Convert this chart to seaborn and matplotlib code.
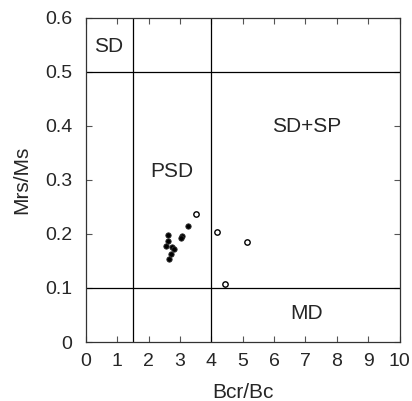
import matplotlib
matplotlib.use("Agg")
import matplotlib.pyplot as plt
import seaborn as sns
import pandas as pd

# Day plot data (Bcr/Bc vs Mrs/Ms)
filled_bcr = [3.24, 3.06, 3.03, 2.63, 2.62, 2.56, 2.73, 2.81, 2.72, 2.66]
filled_mrs = [0.215, 0.196, 0.192, 0.198, 0.187, 0.177, 0.175, 0.173, 0.163, 0.153]
open_bcr = [3.51, 4.19, 5.14, 4.43]
open_mrs = [0.236, 0.203, 0.185, 0.107]

# Domain boundaries and labels
vlines = [1.5, 4.0]
hlines = [0.1, 0.5]
region_names = ["SD", "PSD", "SD+SP", "MD"]
region_x = [0.73, 2.74, 7.03, 7.04]
region_y = [0.55, 0.32, 0.402, 0.056]

sns.set_style("ticks")
plt.rcParams['font.family'] = ['Liberation Sans', 'DejaVu Sans']

filled_df = pd.DataFrame({"Bcr/Bc": filled_bcr, "Mrs/Ms": filled_mrs})
open_df = pd.DataFrame({"Bcr/Bc": open_bcr, "Mrs/Ms": open_mrs})

fig = plt.figure(figsize=(4.12, 4.01), dpi=100)
ax = fig.add_axes([0.2087, 0.147, 0.761, 0.809])

sns.scatterplot(data=filled_df, x="Bcr/Bc", y="Mrs/Ms", ax=ax, color="black",
                s=15, edgecolor="#333333", linewidth=0.6, legend=False)
sns.scatterplot(data=open_df, x="Bcr/Bc", y="Mrs/Ms", ax=ax, color="white",
                s=15, edgecolor="black", linewidth=1.0, legend=False)

for v in vlines:
    ax.axvline(v, color="black", linewidth=0.9)
for h in hlines:
    ax.axhline(h, color="black", linewidth=0.9)

for name, x, y in zip(region_names, region_x, region_y):
    ax.text(x, y, name, fontsize=15, ha="center", va="center_baseline")

ax.set_xlim(0, 10)
ax.set_ylim(0, 0.6)
ax.set_xticks(range(0, 11))
ax.set_yticks([0, 0.1, 0.2, 0.3, 0.4, 0.5, 0.6])
ax.set_yticklabels(["0", "0.1", "0.2", "0.3", "0.4", "0.5", "0.6"])
ax.tick_params(direction="in", top=True, right=True, length=4, width=0.8,
               labelsize=14, color="#555555")
ax.tick_params(axis="x", pad=8)
ax.tick_params(axis="y", pad=10)
for sp in ax.spines.values():
    sp.set_linewidth(0.9)
    sp.set_color("#333333")

ax.set_xlabel("Bcr/Bc", fontsize=15, labelpad=9)
ax.set_ylabel("Mrs/Ms", fontsize=15, labelpad=10)

fig.savefig("out.png", dpi=100)
